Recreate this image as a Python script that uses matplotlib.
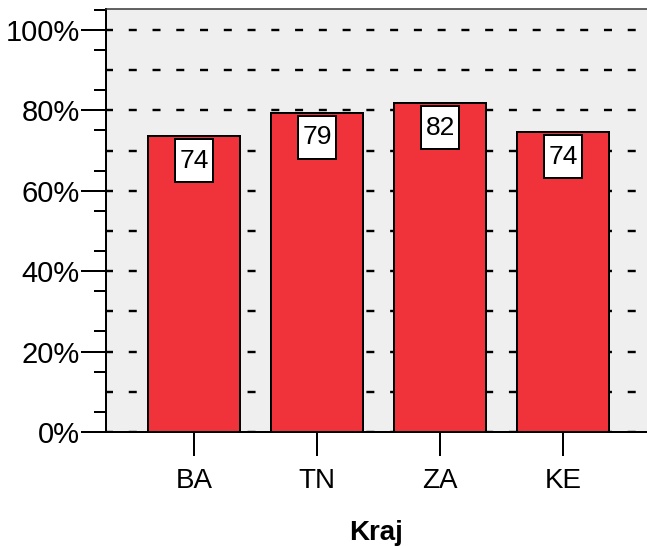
import matplotlib
matplotlib.use("Agg")
import matplotlib.pyplot as plt
from matplotlib.patches import Rectangle
from matplotlib.ticker import MultipleLocator, FixedLocator, PercentFormatter

categories = ["BA", "TN", "ZA", "KE"]
values = [73.6, 79.4, 81.8, 74.6]
labels = ["74", "79", "82", "74"]
grid_levels = [0, 10, 20, 30, 40, 50, 60, 70, 80, 90, 100]
minor_ticks = [5, 15, 25, 35, 45, 55, 65, 75, 85, 95, 105]

plt.rcParams['font.family'] = ['Liberation Sans', 'DejaVu Sans']

PX = 72 / 100  # points per pixel at dpi 100

fig = plt.figure(figsize=(6.47, 5.46), dpi=100)
ax = fig.add_axes([106/647, 1 - 432/546, (647-106)/647, (432-9)/546])
ax.set_facecolor('#efefef')

x = list(range(len(categories)))
ax.bar(x, values, width=0.75, color='#f0323a', edgecolor='black', linewidth=2*PX, zorder=3)

for xi, v, lab in zip(x, values, labels):
    bw, bh = 0.31, 10.8
    ax.add_patch(Rectangle((xi - bw/2, v - 0.7 - bh), bw, bh, facecolor='white',
                           edgecolor='black', linewidth=2*PX, zorder=4))
    ax.text(xi, v - 0.7 - bh/2, lab, ha='center', va='center', fontsize=19, zorder=5)

ax.set_xlim(-0.715, 3.68)
ax.set_ylim(0, 105.2)
ax.set_xticks(x)
ax.set_xticklabels(categories, fontsize=20)
ax.yaxis.set_major_locator(MultipleLocator(20))
ax.yaxis.set_minor_locator(FixedLocator(minor_ticks))
ax.yaxis.set_major_formatter(PercentFormatter(decimals=0))
ax.tick_params(axis='y', which='major', length=25*PX, width=2*PX, labelsize=21, pad=1)
ax.tick_params(axis='y', which='minor', length=12*PX, width=2*PX)
ax.tick_params(axis='x', which='major', length=24*PX, width=2*PX, pad=9)

glw = 2.4
for g in grid_levels:
    ax.axhline(g, color='black', linestyle=(1/glw, (8/glw, 15.76/glw)),
               linewidth=glw*PX, zorder=1)

ax.spines['right'].set_visible(False)
ax.spines['top'].set_color('#333333')
ax.spines['top'].set_linewidth(1.5*PX)
ax.spines['left'].set_linewidth(2*PX)
ax.spines['bottom'].set_linewidth(2*PX)
ax.spines['bottom'].set_zorder(6)

ax.set_xlabel("Kraj", fontsize=20, fontweight='bold', labelpad=18)

fig.savefig("out.png", dpi=100)
